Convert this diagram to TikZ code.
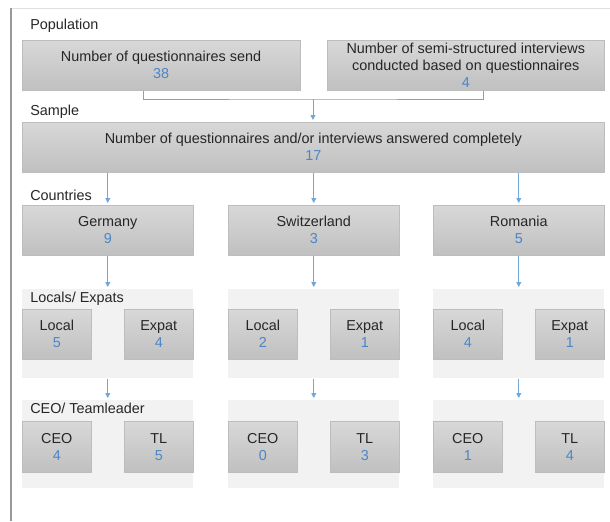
\documentclass[tikz,border=0pt]{standalone}
\usepackage{fontspec}
\setmainfont{Liberation Sans}
\usetikzlibrary{arrows.meta,calc}
\definecolor{numblue}{HTML}{4A86C8}
\definecolor{linkblue}{HTML}{6FA8DC}
\definecolor{boxtop}{HTML}{D8D8D8}
\definecolor{boxbot}{HTML}{C0C0C0}
\definecolor{boxedge}{HTML}{BDBDBD}
\definecolor{panelfill}{HTML}{F2F2F2}
\definecolor{txt}{HTML}{262626}
\begin{document}
\begin{tikzpicture}[x=0.75pt,y=-0.75pt,
  every node/.style={font=\fontsize{10.8pt}{12.75pt}\selectfont, text=txt},
  graybox/.style={draw=boxedge, line width=0.4pt, top color=boxtop, bottom color=boxbot,
     align=center, inner sep=0pt, anchor=north west},
  panel/.style={fill=panelfill, draw=none, inner sep=0pt, anchor=north west},
  sz/.style 2 args={minimum width=0.75*#1pt, minimum height=0.75*#2pt},
  lbl/.style={anchor=base west, inner sep=0pt},
  link/.style={draw=linkblue, line width=0.6pt},
  arr/.style={link, -{Triangle[length=3.6pt,width=3.6pt]}, shorten >=1.5pt}]
\useasboundingbox (0,0) rectangle (610,521);
% frame
\draw[draw=black!12, line width=0.6pt] (11,8) -- (610,8);
\draw[draw=black!40, line width=1pt] (11,8) -- (11,521);
% labels
\node[lbl] (lpop) at (30,29) {Population};
\node[lbl] (lsam) at (30,115) {Sample};
\node[lbl] (lcou) at (30,200) {Countries};
% population boxes
\node[graybox, sz={277.5}{50}] (p1) at (22,40)
  {Number of questionnaires send\\\textcolor{numblue}{38}};
\node[graybox, sz={277}{50}] (p2) at (327,40)
  {Number of semi-structured interviews\\conducted based on questionnaires\\\textcolor{numblue}{4}};
% sample
\node[graybox, sz={582}{50}] (s) at (22,122)
  {Number of questionnaires and/or interviews answered completely\\\textcolor{numblue}{17}};
% countries
\node[graybox, sz={171}{50}] (de) at (22,205) {Germany\\\textcolor{numblue}{9}};
\node[graybox, sz={171}{50}] (ch) at (228,205) {Switzerland\\\textcolor{numblue}{3}};
\node[graybox, sz={171}{50}] (ro) at (433,205) {Romania\\\textcolor{numblue}{5}};
% locals/expats panels
\node[panel, sz={171}{89}] (lde) at (22,289) {};
\node[panel, sz={171}{89}] (lch) at (228,289) {};
\node[panel, sz={171}{89}] (lro) at (433,289) {};
\node[lbl] (lloc) at (30,302) {Locals/ Expats};
\node[graybox, sz={69}{50}] (dl) at (22,309) {Local\\\textcolor{numblue}{5}};
\node[graybox, sz={69}{50}] (dx) at (124,309) {Expat\\\textcolor{numblue}{4}};
\node[graybox, sz={69}{50}] (cl) at (228,309) {Local\\\textcolor{numblue}{2}};
\node[graybox, sz={69}{50}] (cx) at (330,309) {Expat\\\textcolor{numblue}{1}};
\node[graybox, sz={69}{50}] (rl) at (433,309) {Local\\\textcolor{numblue}{4}};
\node[graybox, sz={69}{50}] (rx) at (535,309) {Expat\\\textcolor{numblue}{1}};
% CEO panels
\node[panel, sz={171}{88}] (tde) at (22,400) {};
\node[panel, sz={171}{88}] (tch) at (228,400) {};
\node[panel, sz={171}{88}] (tro) at (433,400) {};
\node[lbl] (lceo) at (30,413) {CEO/ Teamleader};
\node[graybox, sz={69}{51}] (dc) at (22,421) {CEO\\\textcolor{numblue}{4}};
\node[graybox, sz={69}{51}] (dt) at (124,421) {TL\\\textcolor{numblue}{5}};
\node[graybox, sz={69}{51}] (cc) at (228,421) {CEO\\\textcolor{numblue}{0}};
\node[graybox, sz={69}{51}] (ct) at (330,421) {TL\\\textcolor{numblue}{3}};
\node[graybox, sz={69}{51}] (rc) at (433,421) {CEO\\\textcolor{numblue}{1}};
\node[graybox, sz={69}{51}] (rt) at (535,421) {TL\\\textcolor{numblue}{4}};
% connectors
\coordinate (j) at (313,99);
\draw[link] ([xshift=-13.1pt]p1.south) |- (j) -| ([xshift=13.5pt]p2.south);
\draw[arr] (j) -- (j |- s.north);
\draw[arr] (s.south -| de.north) -- (de.north);
\draw[arr] (s.south -| ch.north) -- (ch.north);
\draw[arr] (s.south -| ro.north) -- (ro.north);
\draw[arr] (de.south) -- (lde.north);
\draw[arr] (ch.south) -- (lch.north);
\draw[arr] (ro.south) -- (lro.north);
\draw[arr] (lde.south) -- (tde.north);
\draw[arr] (lch.south) -- (tch.north);
\draw[arr] (lro.south) -- (tro.north);
\end{tikzpicture}
\end{document}
